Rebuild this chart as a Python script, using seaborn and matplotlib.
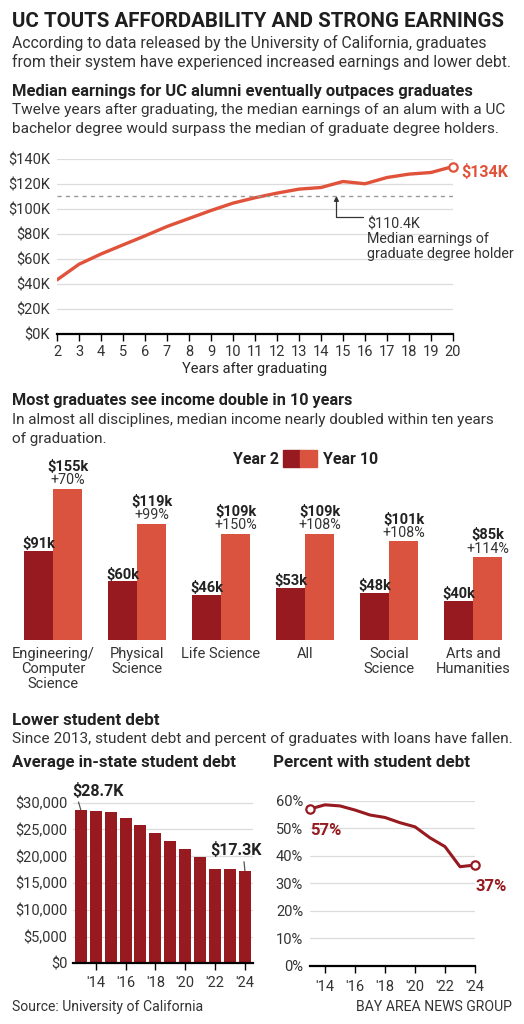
import pandas as pd
import matplotlib.pyplot as plt
import seaborn as sns
from matplotlib.patches import Rectangle

# canvas size in pixels
W, H = 524, 1024

# --- data ---
years_after = list(range(2, 21))
median_earnings = [43.3, 55.8, 64.0, 71.3, 78.5, 86.0, 92.4, 98.8, 104.7, 109.0,
                   112.7, 115.9, 117.2, 122.0, 120.2, 125.2, 127.9, 129.2, 134.0]
grad_median = 110.4

disciplines = ["Engineering/\nComputer\nScience", "Physical\nScience", "Life Science",
               "All", "Social\nScience", "Arts and\nHumanities"]
year2 = [91, 60, 46, 53, 48, 40]
year10 = [155, 119, 109, 109, 101, 85]
pct_change = ["+70%", "+99%", "+150%", "+108%", "+108%", "+114%"]

debt_years = list(range(2013, 2025))
avg_debt = [28700, 28500, 28300, 27100, 25800, 24400, 22900, 21300, 19800, 17700, 17700, 17300]

pct_years = list(range(2013, 2025))
pct_with_debt = [57.0, 58.5, 58.1, 56.6, 54.8, 53.9, 52.0, 50.5, 46.5, 43.3, 36.0, 36.6]

# colours
ORANGE = "#E1523A"
LIGHTRED = "#D9533E"
DARKRED = "#961A1F"
TXT = "#333333"
GRID = "#DCDCDC"

sns.set_theme(style="white")
plt.rcParams['font.family'] = ['Roboto', 'DejaVu Sans']
plt.rcParams['text.color'] = TXT
plt.rcParams['xtick.color'] = TXT
plt.rcParams['ytick.color'] = TXT

fig = plt.figure(figsize=(W / 100, H / 100), dpi=100)
fig.patch.set_facecolor("white")
renderer = fig.canvas.get_renderer()


def axes_px(x0, y0, x1, y1):
    return fig.add_axes([x0 / W, 1 - y1 / H, (x1 - x0) / W, (y1 - y0) / H])


def txt(x, y, s, **kw):
    kw.setdefault("va", "baseline")
    return fig.text(x / W, 1 - y / H, s, **kw)


def fit_txt(x, y, s, width, **kw):
    # scale the font so the line spans the same width as in the print version
    t = txt(x, y, s, **kw)
    w = t.get_window_extent(renderer).width
    t.set_fontsize(t.get_fontsize() * width / w)
    return t


def paragraph(x, y, lines, width, step, **kw):
    first = fit_txt(x, y, lines[0], width, **kw)
    kw["fontsize"] = first.get_fontsize()
    for k, line in enumerate(lines[1:], start=1):
        txt(x, y + k * step, line, **kw)


def clean(ax, grid=True):
    for side in ["top", "right", "left"]:
        ax.spines[side].set_visible(False)
    ax.spines["bottom"].set_color("black")
    ax.spines["bottom"].set_linewidth(1.6)
    if grid:
        ax.yaxis.grid(True, color=GRID, lw=0.9)
        ax.set_axisbelow(True)
    ax.xaxis.grid(False)
    ax.set_xlabel("")
    ax.set_ylabel("")


BOLD = dict(weight="bold", color="#222")

# --- header texts ---
fit_txt(12, 27, "UC TOUTS AFFORDABILITY AND STRONG EARNINGS", 495, fontsize=14, weight="bold", color="#1e1e1e")
paragraph(12, 48, ["According to data released by the University of California, graduates",
                   "from their system have experienced increased earnings and lower debt."], 474, 19, fontsize=10)
fit_txt(12, 96, "Median earnings for UC alumni eventually outpaces graduates", 463, fontsize=10, **BOLD)
paragraph(12, 114, ["Twelve years after graduating, the median earnings of an alum with a UC",
                    "bachelor degree would surpass the median of graduate degree holders."], 495, 19, fontsize=10)

# --- 1. median earnings line ---
ax1 = axes_px(57, 159, 453, 334)
sns.lineplot(x=years_after, y=median_earnings, ax=ax1, color=ORANGE, linewidth=2.4)
ax1.set_xlim(2, 20)
ax1.set_ylim(0, 140)
ax1.set_yticks(range(0, 141, 20))
ax1.set_yticklabels([f"${v}K" for v in range(0, 141, 20)])
ax1.set_xticks(years_after)
clean(ax1)
ax1.tick_params(axis="x", bottom=True, length=5, width=1, color="black", pad=3, labelsize=10.5)
ax1.tick_params(axis="y", length=0, pad=5, labelsize=10.5)
ax1.axhline(grad_median, ls=(0, (3, 3)), color="#999999", lw=1)
ax1.plot(years_after[-1], median_earnings[-1], "o", mfc="white", mec=ORANGE, ms=6, mew=1.6, clip_on=False, zorder=5)
ax1.annotate(f"${median_earnings[-1]:.0f}K", xy=(years_after[-1], median_earnings[-1]),
             xytext=(6, -4), textcoords="offset points", ha="left", va="center",
             fontsize=11.5, weight="bold", color=ORANGE, annotation_clip=False)
ax1.annotate("", xy=(14.7, grad_median), xytext=(15.9, 93.6),
             arrowprops=dict(arrowstyle="-|>", color="#333", lw=0.9, mutation_scale=7,
                             connectionstyle="angle,angleA=0,angleB=90,rad=0", shrinkA=0, shrinkB=0))
ax1.text(16.1, 93.6, f"${grad_median}K\nMedian earnings of\ngraduate degree holder",
         ha="left", va="top", fontsize=10.3, linespacing=1.1, transform=ax1.transData)
ax1.set_xlabel("Years after graduating", fontsize=10.5, labelpad=2)

# --- 2. income by discipline ---
fit_txt(12, 405, "Most graduates see income double in 10 years", 340, fontsize=10, **BOLD)
paragraph(12, 424, ["In almost all disciplines, median income nearly doubled within ten years",
                    "of graduation."], 485, 19, fontsize=10)

txt(279, 464, "Year 2", fontsize=11.5, weight="bold", ha="right", color="#222")
fig.add_artist(Rectangle((283 / W, 1 - 467 / H), 17 / W, 17 / H, transform=fig.transFigure, color=DARKRED))
fig.add_artist(Rectangle((300 / W, 1 - 467 / H), 17 / W, 17 / H, transform=fig.transFigure, color=LIGHTRED))
txt(323, 464, "Year 10", fontsize=11.5, weight="bold", ha="left", color="#222")

df = pd.DataFrame({
    "discipline": disciplines * 2,
    "period": ["Year 2"] * len(disciplines) + ["Year 10"] * len(disciplines),
    "earnings": year2 + year10,
})
ax2 = axes_px(12, 470, 512, 640)
sns.barplot(data=df, x="discipline", y="earnings", hue="period", palette=[DARKRED, LIGHTRED],
            width=0.7, saturation=1, legend=False, linewidth=0, ax=ax2)
ax2.set_xlim(-0.488, 5.464)
ax2.set_ylim(0, 174)
for side in ax2.spines:
    ax2.spines[side].set_visible(False)
ax2.set_yticks([])
ax2.set_xlabel("")
ax2.set_ylabel("")
ax2.tick_params(axis="x", length=0, pad=5, labelsize=10.5)
for lbl in ax2.get_xticklabels():
    lbl.set_linespacing(1.1)

for i, bar in enumerate(ax2.containers[0]):
    ax2.annotate(f"${year2[i]}k", xy=(bar.get_x() + bar.get_width(), bar.get_height()),
                 xytext=(1.5, 2), textcoords="offset points", ha="right", va="baseline",
                 fontsize=10.5, weight="bold", color="#222")
for i, bar in enumerate(ax2.containers[1]):
    cx = bar.get_x() + bar.get_width() / 2
    ax2.annotate(pct_change[i], xy=(cx, bar.get_height()), xytext=(0, 3.2),
                 textcoords="offset points", ha="center", va="baseline", fontsize=10.3)
    ax2.annotate(f"${year10[i]}k", xy=(cx, bar.get_height()), xytext=(0, 12.6),
                 textcoords="offset points", ha="center", va="baseline",
                 fontsize=10.5, weight="bold", color="#222")

# --- 3. student debt ---
fit_txt(12, 725, "Lower student debt", 148, fontsize=10, **BOLD)
fit_txt(12, 743, "Since 2013, student debt and percent of graduates with loans have fallen.", 499, fontsize=10)
fit_txt(12, 767, "Average in-state student debt", 225, fontsize=10, **BOLD)
fit_txt(273, 767, "Percent with student debt", 197, fontsize=10, **BOLD)

ax3 = axes_px(73, 795, 253, 963.3)
sns.barplot(x=debt_years, y=avg_debt, color=DARKRED, width=0.8, saturation=1, linewidth=0, ax=ax3)
ax3.set_xlim(-0.52, 11.54)
ax3.set_ylim(0, 31440)
ax3.set_yticks(range(0, 30001, 5000))
ax3.set_yticklabels([f"${v:,}" for v in range(0, 30001, 5000)])
even_idx = [i for i, y in enumerate(debt_years) if y % 2 == 0]
ax3.set_xticks(even_idx)
ax3.set_xticklabels([f"'{debt_years[i] % 100}" for i in even_idx])
clean(ax3)
ax3.tick_params(axis="x", bottom=True, length=5, width=1, color="black", pad=4, labelsize=10.5)
ax3.tick_params(axis="y", length=0, pad=4, labelsize=10.5)
ax3.annotate(f"${avg_debt[0] / 1000:.1f}K", xy=(0, avg_debt[0]), xytext=(-6, 10),
             textcoords="offset points", ha="left", va="baseline", fontsize=11.5, weight="bold", color="#222",
             arrowprops=dict(arrowstyle="-", color="#555", lw=0.9, shrinkA=0, shrinkB=0,
                             relpos=(0.1, 0)), annotation_clip=False)
last = len(avg_debt) - 1
ax3.annotate(f"${avg_debt[-1] / 1000:.1f}K", xy=(last, avg_debt[-1]), xytext=(12, 11),
             textcoords="offset points", ha="right", va="baseline", fontsize=11.5, weight="bold", color="#222",
             arrowprops=dict(arrowstyle="-", color="#555", lw=0.9, shrinkA=0, shrinkB=0,
                             relpos=(0.65, 0)), annotation_clip=False)

ax4 = axes_px(310, 800.7, 475, 965.7)
sns.lineplot(x=pct_years, y=pct_with_debt, color=DARKRED, linewidth=2.2, ax=ax4)
ax4.set_xlim(pct_years[0], pct_years[-1])
ax4.set_ylim(0, 60)
ax4.set_yticks(range(0, 61, 10))
ax4.set_yticklabels([f"{v}%" for v in range(0, 61, 10)])
ax4.set_xticks([y for y in pct_years if y % 2 == 0])
ax4.set_xticklabels([f"'{y % 100}" for y in pct_years if y % 2 == 0])
clean(ax4)
ax4.tick_params(axis="x", bottom=True, length=5, width=1, color="black", pad=5, labelsize=10.5)
ax4.tick_params(axis="y", length=0, pad=5, labelsize=10.5)
for j in [0, -1]:
    ax4.plot(pct_years[j], pct_with_debt[j], "o", mfc="white", mec=DARKRED, ms=6, mew=1.6,
             clip_on=False, zorder=5)
    ax4.annotate(f"{pct_with_debt[j]:.0f}%", xy=(pct_years[j], pct_with_debt[j]), xytext=(0, -19),
                 textcoords="offset points", ha="left", va="baseline", fontsize=12,
                 weight="bold", color=DARKRED, annotation_clip=False)

# footer
fit_txt(12, 1011, "Source: University of California", 191, fontsize=10)
fit_txt(512, 1011, "BAY AREA NEWS GROUP", 155, fontsize=10, ha="right")

fig.savefig("out.png", dpi=100)
